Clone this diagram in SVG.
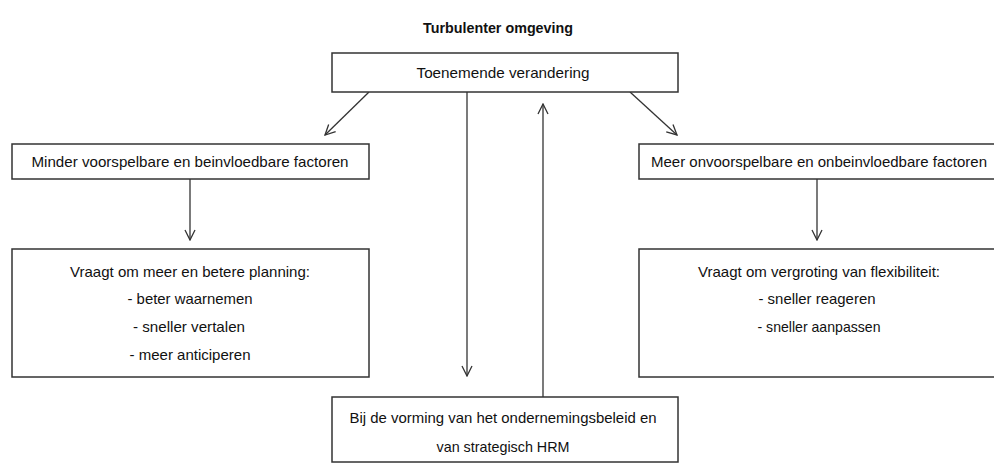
<svg xmlns="http://www.w3.org/2000/svg" width="994" height="464" viewBox="0 0 994 464">
<style>
.box{fill:#fff;stroke:#333;stroke-width:1.5}
.t{font-family:"Liberation Sans",Arial,sans-serif;font-size:15px;fill:#111;text-anchor:middle}
.b{font-weight:bold}
.c{stroke:#333;stroke-width:1.3;fill:none;marker-end:url(#ah)}
</style>
<defs>
<marker id="ah" viewBox="0 0 12 12" refX="11" refY="6" markerWidth="12" markerHeight="12" markerUnits="userSpaceOnUse" orient="auto">
<path d="M1,1 L11,6 L1,11" fill="none" stroke="#333" stroke-width="1.3"/>
</marker>
</defs>
<rect width="994" height="464" fill="#fff"/>
<text class="t b" x="498" y="33" textLength="150" lengthAdjust="spacingAndGlyphs">Turbulenter omgeving</text>
<g id="connectors">
<line class="c" x1="369" y1="92" x2="325" y2="135"/>
<line class="c" x1="630" y1="92" x2="677" y2="135"/>
<line class="c" x1="190" y1="179" x2="190" y2="240"/>
<line class="c" x1="817" y1="179" x2="817" y2="240"/>
<line class="c" x1="467" y1="92" x2="467" y2="376"/>
<line class="c" x1="543" y1="397" x2="543" y2="104"/>
</g>
<g id="top">
<rect class="box" x="332" y="53" width="346" height="39"/>
<text class="t" x="503" y="78" textLength="173" lengthAdjust="spacingAndGlyphs">Toenemende verandering</text>
</g>
<g id="left">
<rect class="box" x="12" y="144" width="357" height="35"/>
<text class="t" x="190" y="167" textLength="317" lengthAdjust="spacingAndGlyphs">Minder voorspelbare en beinvloedbare factoren</text>
</g>
<g id="right">
<rect class="box" x="639" y="144" width="360" height="35"/>
<text class="t" x="819" y="167" textLength="336" lengthAdjust="spacingAndGlyphs">Meer onvoorspelbare en onbeinvloedbare factoren</text>
</g>
<g id="leftlow">
<rect class="box" x="12" y="249" width="357" height="128"/>
<text class="t" x="190" y="277" textLength="240" lengthAdjust="spacingAndGlyphs">Vraagt om meer en betere planning:</text>
<text class="t" x="190" y="304" textLength="125" lengthAdjust="spacingAndGlyphs">- beter waarnemen</text>
<text class="t" x="189" y="332" textLength="112" lengthAdjust="spacingAndGlyphs">- sneller vertalen</text>
<text class="t" x="190" y="360" textLength="121" lengthAdjust="spacingAndGlyphs">- meer anticiperen</text>
</g>
<g id="rightlow">
<rect class="box" x="639" y="249" width="360" height="128"/>
<text class="t" x="819" y="277" textLength="242" lengthAdjust="spacingAndGlyphs">Vraagt om vergroting van flexibiliteit:</text>
<text class="t" x="817" y="304" textLength="117" lengthAdjust="spacingAndGlyphs">- sneller reageren</text>
<text class="t" x="819" y="332" textLength="123" lengthAdjust="spacingAndGlyphs">- sneller aanpassen</text>
</g>
<g id="bottom">
<rect class="box" x="332" y="397" width="346" height="65"/>
<text class="t" x="503" y="423" textLength="307" lengthAdjust="spacingAndGlyphs">Bij de vorming van het ondernemingsbeleid en</text>
<text class="t" x="503" y="452" textLength="133" lengthAdjust="spacingAndGlyphs">van strategisch HRM</text>
</g>
</svg>
